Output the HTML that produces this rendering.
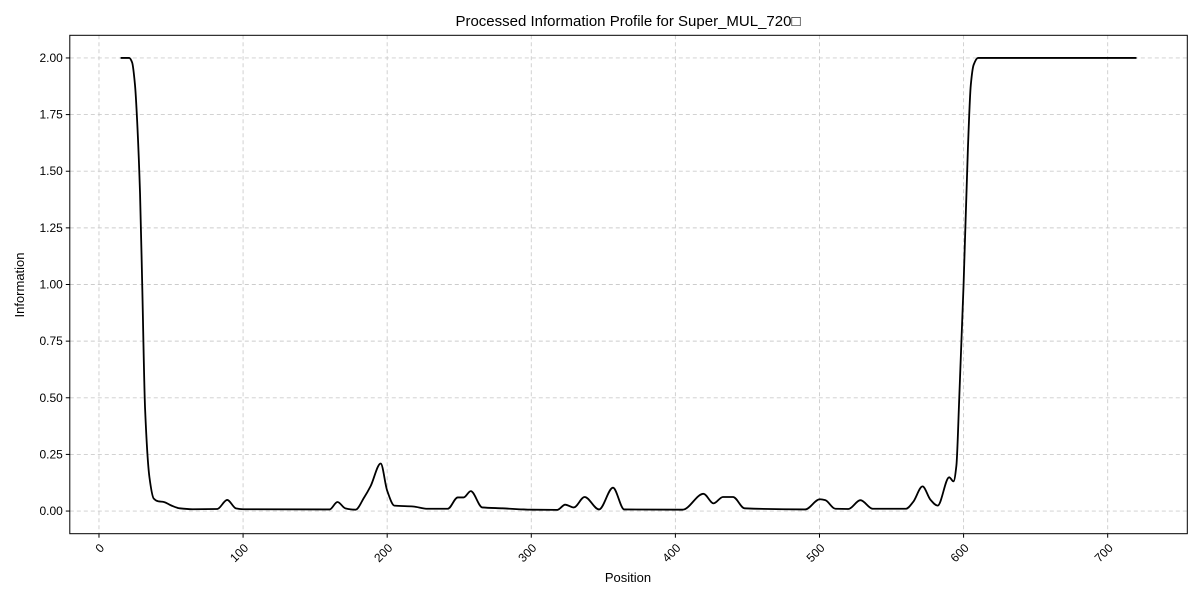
<!DOCTYPE html>
<html><head><meta charset="utf-8"><style>
body{margin:0;background:#fff;}
svg{display:block;font-family:"Liberation Sans","DejaVu Sans",sans-serif;}
</style></head><body>
<svg id="chart" width="1200" height="600" viewBox="0 0 1200 600" xmlns="http://www.w3.org/2000/svg">
<rect width="1200" height="600" fill="#fff"/>
<text x="628" y="26" font-size="15" text-anchor="middle">Processed Information Profile for Super_MUL_720□</text>
<g id="grid"></g><g id="ticks"></g>
<path id="line" fill="none" stroke="#000" stroke-width="1.8"/>
<rect x="69.8" y="35.3" width="1117.5" height="498.4" fill="none" stroke="#000" stroke-width="1"/>
<text x="628" y="582" font-size="13" text-anchor="middle">Position</text>
<text transform="translate(24,285) rotate(-90)" font-size="13" text-anchor="middle">Information</text>
</svg>
<script>
const positions=[15,21,23,25,26.5,28.5,30,32,35,38,41,45,50,56,65,82,89,95,100,160,165.5,171,178,184,188.5,195.5,200,205,218,228,242,249,253,258,266,280,300,318,323.5,329.5,337,347,356.7,364.5,405,419.5,426.5,433,440,448,490,500.3,504,511,520,528.4,537,560,565,571.5,577,582,590,593,595,597,600,603,605,607,610,720];
const information=[2,2,1.98,1.88,1.72,1.4,1.0,0.45,0.15,0.055,0.043,0.04,0.025,0.012,0.008,0.009,0.049,0.012,0.008,0.007,0.04,0.012,0.006,0.06,0.11,0.21,0.09,0.024,0.02,0.01,0.01,0.06,0.06,0.088,0.016,0.012,0.006,0.005,0.028,0.016,0.062,0.007,0.103,0.007,0.006,0.076,0.034,0.062,0.062,0.012,0.007,0.052,0.048,0.01,0.009,0.048,0.01,0.01,0.04,0.109,0.05,0.024,0.149,0.131,0.2,0.5,1.0,1.6,1.88,1.97,2,2];
const xTicks=[0,100,200,300,400,500,600,700];
const yTicks=[0,0.25,0.5,0.75,1.0,1.25,1.5,1.75,2.0];
const xMin=-20.25,xMax=755.25,yMin=-0.1,yMax=2.1;
const L=69.8,R=1187.3,T=35.3,B=533.7;
const sx=v=>L+(v-xMin)/(xMax-xMin)*(R-L);
const sy=v=>B-(v-yMin)/(yMax-yMin)*(B-T);
const NS="http://www.w3.org/2000/svg";
const grid=document.getElementById('grid'),ticks=document.getElementById('ticks');
function mk(t,a,p){const e=document.createElementNS(NS,t);for(const k in a)e.setAttribute(k,a[k]);p.appendChild(e);return e;}
xTicks.forEach(v=>{const x=sx(v);
 const g=mk('line',{x1:x,x2:x,y1:T,y2:B,stroke:'#ccc','stroke-dasharray':'4,3','stroke-width':0.9},grid);
 
 
 mk('line',{x1:x,x2:x,y1:B,y2:B+4,stroke:'#000'},ticks);
 const t=mk('text',{x:0,y:0,'font-size':12,'text-anchor':'end',transform:`translate(${x+6},${B+15}) rotate(-45)`},ticks);
 t.textContent=v;
 
 
});
yTicks.forEach(v=>{const y=sy(v);
 const g=mk('line',{x1:L,x2:R,y1:y,y2:y,stroke:'#ccc','stroke-dasharray':'4,3','stroke-width':0.9},grid);
 
 
 mk('line',{x1:L-4,x2:L,y1:y,y2:y,stroke:'#000'},ticks);
 const t=mk('text',{x:L-7,y:y+4,'font-size':12,'text-anchor':'end'},ticks);
 t.textContent=v.toFixed(2);
 
 
});
const xs=positions.map(sx),ys=information.map(sy),n=xs.length;
const d=[],m=[];
for(let i=0;i<n-1;i++)d.push((ys[i+1]-ys[i])/(xs[i+1]-xs[i]));
for(let i=0;i<n;i++){
 if(i===0)m.push(d[0]);else if(i===n-1)m.push(d[n-2]);
 else m.push(d[i-1]*d[i]<=0?0:(2*d[i-1]*d[i])/(d[i-1]+d[i]));
}
let p=`M${xs[0]},${ys[0]}`;
for(let i=0;i<n-1;i++){const h=xs[i+1]-xs[i];
 p+=`C${xs[i]+h/3},${ys[i]+m[i]*h/3} ${xs[i+1]-h/3},${ys[i+1]-m[i+1]*h/3} ${xs[i+1]},${ys[i+1]}`;}
document.getElementById('line').setAttribute('d',p);
</script>
</body></html>
